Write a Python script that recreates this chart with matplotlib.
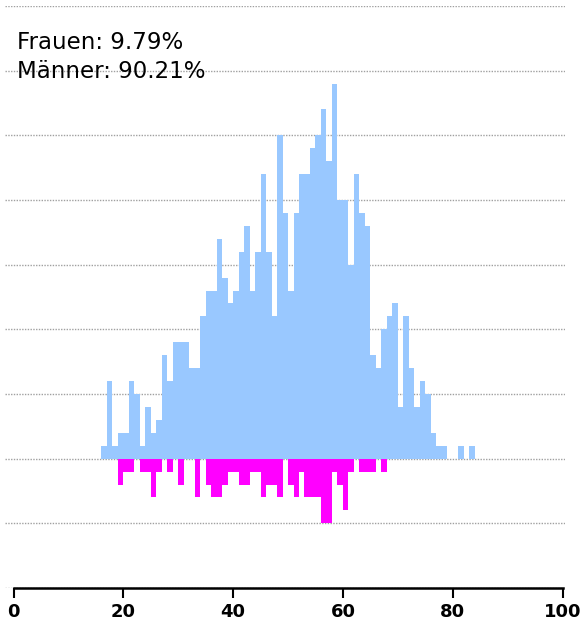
import numpy as np
import matplotlib.pyplot as plt

# Altersverteilung, Anzahl pro Lebensjahr (16 bis 83)
ages = np.arange(16, 84)
men = [1, 6, 1, 2, 2, 6, 5, 1, 4, 2, 3,
       8, 6, 9, 9, 9, 7, 7, 11, 13, 13,
       17, 14, 12, 13, 16, 18, 13, 16, 22, 16,
       11, 25, 19, 13, 19, 22, 22, 24, 25, 27,
       23, 29, 20, 20, 15, 22, 19, 18, 8, 7,
       10, 11, 12, 4, 11, 7, 4, 6, 5, 2,
       1, 1, 0, 0, 1, 0, 1]
women = [0, 0, 0, 2, 1, 1, 0, 1, 1, 3, 1,
         0, 1, 0, 2, 0, 0, 3, 0, 2, 3,
         3, 2, 1, 1, 2, 2, 1, 1, 3, 2,
         2, 3, 0, 2, 3, 1, 3, 3, 3, 5,
         5, 1, 2, 4, 1, 0, 1, 1, 1, 0,
         1, 0, 0, 0, 0, 0, 0, 0, 0, 0,
         0, 0, 0, 0, 0, 0, 0]
xticks = [0, 20, 40, 60, 80, 100]

total = sum(men) + sum(women)
pct_w = 100 * sum(women) / total
pct_m = 100 * sum(men) / total

fig = plt.figure(figsize=(5.83, 6.29), dpi=100)
ax = fig.add_axes([5 / 583, 1 - 588 / 629, 560 / 583, 582 / 629])

# dotted guide lines behind the bars
for y in range(-10, 36, 5):
    ax.axhline(y, color='#a0a0a0', lw=1, ls=(0, (1, 1)), zorder=0)

ax.bar(ages, men, width=1, align='edge', color='#99c8ff', lw=0, zorder=2)
ax.bar(ages, [-w for w in women], width=1, align='edge', color='#ff00ff', lw=0, zorder=2)

ax.set_xlim(-1.55, 100.45)
ax.set_ylim(-10, 35)

for s in ['left', 'right', 'top']:
    ax.spines[s].set_visible(False)
ax.spines['bottom'].set_bounds(0, 100)
ax.spines['bottom'].set_linewidth(1.8)
ax.spines['bottom'].set_zorder(3)

ax.set_yticks([])
ax.set_xticks(xticks)
ax.tick_params(axis='x', length=7, width=1.5, pad=4, labelsize=13)
for lab in ax.get_xticklabels():
    lab.set_fontweight('bold')

ax.text(0.0214, 0.957, 'Frauen: %.2f%%' % pct_w, transform=ax.transAxes,
        fontsize=16.5, va='top', ha='left')
ax.text(0.0214, 0.908, 'Männer: %.2f%%' % pct_m, transform=ax.transAxes,
        fontsize=16.5, va='top', ha='left')

plt.savefig('out.png', dpi=100)
plt.close()
